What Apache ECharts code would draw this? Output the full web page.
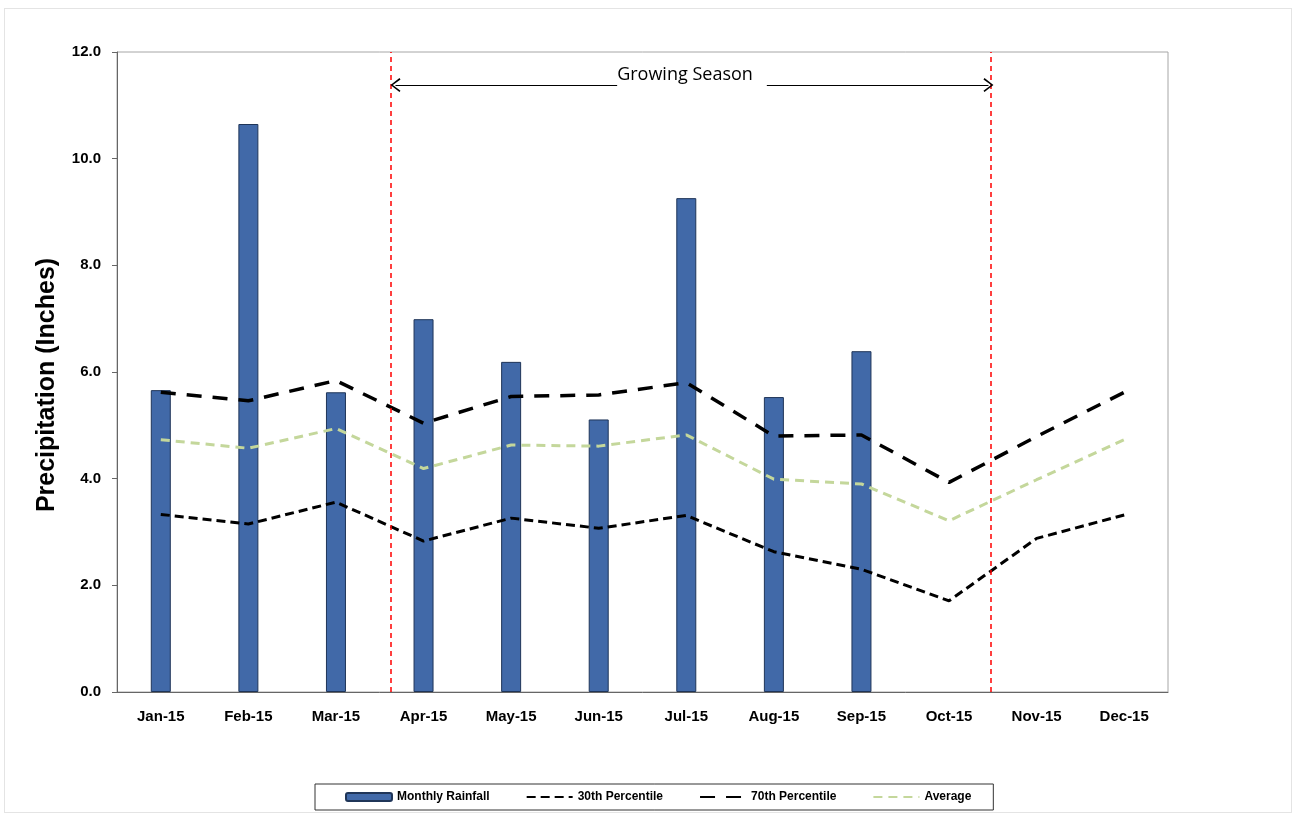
<!DOCTYPE html>
<html>
<head>
<meta charset="utf-8">
<script src="https://cdn.jsdelivr.net/npm/echarts@6/dist/echarts.min.js"></script>
<style>
  html, body { margin: 0; padding: 0; background: #fff; }
  #chart { width: 1299px; height: 817px; }
  #frame { position: absolute; left: 4px; top: 8px; width: 1286px; height: 803px;
           border: 1px solid #e4e4e4; pointer-events: none; }
</style>
</head>
<body>
<div id="chart"></div>
<div id="frame"></div>
<script>
// monthly values (inches)
const months = ['Jan-15', 'Feb-15', 'Mar-15', 'Apr-15', 'May-15', 'Jun-15',
                'Jul-15', 'Aug-15', 'Sep-15', 'Oct-15', 'Nov-15', 'Dec-15'];
const monthlyRainfall = [5.66, 10.65, 5.62, 6.99, 6.19, 5.11, 9.26, 5.53, 6.39, null, null, null];
const pct30 = [3.33, 3.15, 3.56, 2.83, 3.26, 3.07, 3.31, 2.63, 2.30, 1.71, 2.88, 3.32];
const pct70 = [5.62, 5.46, 5.84, 5.04, 5.54, 5.57, 5.80, 4.80, 4.82, 3.93, 4.79, 5.62];
const average = [4.73, 4.57, 4.94, 4.19, 4.63, 4.61, 4.82, 3.99, 3.90, 3.21, 3.98, 4.73];

// growing season bounds, in months from the start of Jan (hidden 0..12 axis)
const seasonBounds = [3.12, 9.98];
const arrowLevel = 11.38;

const font = 'Liberation Sans, Arial, sans-serif';
const chevron = 'path://M5,0 L10,8.5 L9,9.5 L5,2.2 L1,9.5 L0,8.5 Z';
const hideDot = { opacity: 0 };

let chart = echarts.init(document.getElementById('chart'));

let option = {
  animation: false,
  grid: {
    left: 117, right: 131, top: 52, bottom: 125,
    show: true, borderColor: '#a6a6a6', borderWidth: 1
  },
  legend: {
    data: [
      { name: 'Monthly Rainfall' },
      { name: '30th Percentile', itemStyle: hideDot },
      { name: '70th Percentile', itemStyle: hideDot },
      { name: 'Average', itemStyle: hideDot }
    ],
    left: 315, top: 784,
    padding: [7, 22, 7, 30],
    itemGap: 36,
    itemWidth: 46,
    itemHeight: 8,
    borderColor: '#333',
    borderWidth: 1,
    textStyle: { fontFamily: font, fontWeight: 'bold', fontSize: 12, color: '#000' }
  },
  xAxis: [
    {
      type: 'category',
      data: months,
      axisLine: { lineStyle: { color: '#666' } },
      axisTick: { length: 5, lineStyle: { color: '#666' } },
      axisLabel: { fontFamily: font, fontWeight: 'bold', fontSize: 15, color: '#000', margin: 17 }
    },
    { type: 'value', min: 0, max: 12, show: false }
  ],
  yAxis: {
    type: 'value',
    min: 0, max: 12, interval: 2,
    name: 'Precipitation (Inches)',
    nameLocation: 'middle',
    nameGap: 57,
    nameTextStyle: {
      fontFamily: font, fontWeight: 'bold', fontSize: 25, color: '#000',
      padding: [0, 26, 0, 0]
    },
    axisLine: { show: true, lineStyle: { color: '#666' } },
    axisTick: { show: true, length: 5, lineStyle: { color: '#666' } },
    splitLine: { show: false },
    axisLabel: {
      fontFamily: font, fontWeight: 'bold', fontSize: 15, color: '#000', margin: 16,
      formatter: v => v.toFixed(1)
    }
  },
  series: [
    {
      name: 'Monthly Rainfall',
      type: 'bar',
      data: monthlyRainfall,
      barWidth: 20,
      itemStyle: { color: '#4169a8', borderColor: '#1f3558', borderWidth: 1 }
    },
    {
      name: 'Average',
      type: 'line',
      data: average,
      symbol: 'none',
      lineStyle: { color: '#c4d79b', width: 3, type: [9, 6] },
      itemStyle: { color: '#c4d79b' }
    },
    {
      name: '30th Percentile',
      type: 'line',
      data: pct30,
      symbol: 'none',
      lineStyle: { color: '#000', width: 3, type: [9, 5] },
      itemStyle: { color: '#000' }
    },
    {
      name: '70th Percentile',
      type: 'line',
      data: pct70,
      symbol: 'none',
      lineStyle: { color: '#000', width: 3.5, type: [15, 11] },
      itemStyle: { color: '#000' }
    },
    {
      name: 'seasonLines',
      type: 'line',
      xAxisIndex: 1,
      data: [],
      markLine: {
        silent: true,
        symbol: 'none',
        label: { show: false },
        lineStyle: { color: '#ff0000', width: 1.5, type: [5, 4] },
        data: seasonBounds.map(x => ({ xAxis: x }))
      }
    },
    {
      name: 'seasonArrow',
      type: 'line',
      xAxisIndex: 1,
      data: [],
      markLine: {
        silent: true,
        symbol: [chevron, chevron],
        symbolSize: [14, 10],
        lineStyle: { color: '#000', width: 1.2, type: 'solid' },
        label: {
          show: true,
          position: 'middle',
          formatter: 'Growing Season',
          color: '#000',
          fontFamily: 'Open Sans, sans-serif',
          fontSize: 18,
          backgroundColor: '#fff',
          padding: [2, 14, 4, 0],
          distance: -3
        },
        data: [[
          { coord: [seasonBounds[0] + 0.06, arrowLevel] },
          { coord: [seasonBounds[1] - 0.03, arrowLevel] }
        ]]
      }
    }
  ]
};

chart.setOption(option);
window.addEventListener('resize', function () {
  chart.resize();
});
</script>
</body>
</html>
